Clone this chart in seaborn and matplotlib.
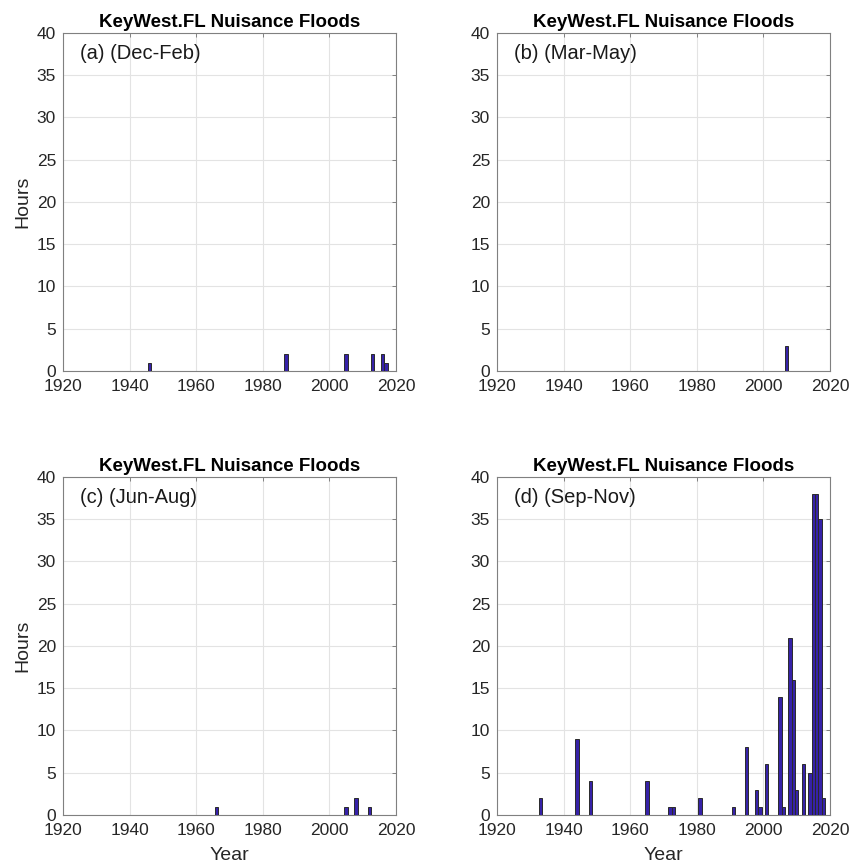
import numpy as np
import pandas as pd
import matplotlib
matplotlib.use('Agg')
import matplotlib.pyplot as plt
import seaborn as sns

# 数据: 每个季节出现滋扰性洪水的年份和小时数
station = 'KeyWest.FL Nuisance Floods'

djf_years = [1946, 1987, 2005, 2013, 2016, 2017]
djf_hours = [1, 2, 2, 2, 2, 1]

mam_years = [2007]
mam_hours = [3]

jja_years = [1966, 2005, 2008, 2012]
jja_hours = [1, 1, 2, 1]

son_years = [1933, 1944, 1948, 1965, 1972, 1973, 1981, 1991, 1995, 1998, 1999,
             2001, 2005, 2006, 2008, 2009, 2010, 2012, 2014, 2015, 2016, 2017, 2018]
son_hours = [2, 9, 4, 4, 1, 1, 2, 1, 8, 3, 1,
             6, 14, 1, 21, 16, 3, 6, 5, 38, 38, 35, 2]

panel_labels = ['(a) (Dec-Feb)', '(b) (Mar-May)', '(c) (Jun-Aug)', '(d) (Sep-Nov)']
x_ticks = [1920, 1940, 1960, 1980, 2000, 2020]
y_ticks = [0, 5, 10, 15, 20, 25, 30, 35, 40]

sns.set_style('white')
plt.rcParams['font.family'] = ['Liberation Sans', 'DejaVu Sans']

bar_color = '#3622a8'
panels = [(djf_years, djf_hours), (mam_years, mam_hours),
          (jja_years, jja_hours), (son_years, son_hours)]

fig = plt.figure(figsize=(8.61, 8.68), dpi=100)
lefts = [0.0732, 0.5772, 0.0732, 0.5772]
bottoms = [0.5726, 0.5726, 0.0611, 0.0611]

for i, (years, hours) in enumerate(panels):
    ax = fig.add_axes([lefts[i], bottoms[i], 0.3868, 0.3894])
    df = pd.DataFrame({'Year': years, 'Hours': hours})
    # native_scale 时宽度按最小年份间隔缩放, 这里换算成 1 年
    if len(years) > 1:
        step = np.min(np.diff(sorted(years)))
    else:
        step = 1
    sns.barplot(data=df, x='Year', y='Hours', native_scale=True, width=1.0 / step,
                color=bar_color, saturation=1, errorbar=None,
                edgecolor='#2a2a2a', linewidth=0.7, ax=ax, zorder=3)

    ax.set_xlim(1920, 2020)
    ax.set_ylim(0, 40)
    ax.set_xticks(x_ticks)
    ax.set_yticks(y_ticks)
    ax.grid(True, color='#e3e3e3', linewidth=0.8, zorder=0)
    ax.set_axisbelow(True)
    ax.tick_params(direction='in', length=3, width=0.7, colors='#808080',
                   labelcolor='#262626', labelsize=12.5, top=True, right=True)
    ax.tick_params(axis='x', pad=6)
    ax.tick_params(axis='y', pad=5)
    for s in ax.spines.values():
        s.set_color('#808080')
        s.set_linewidth(0.8)

    ax.set_title(station, fontsize=13.5, fontweight='bold', pad=4, color='black')
    ax.text(0.05, 0.94, panel_labels[i], transform=ax.transAxes,
            fontsize=14.5, va='center', ha='left', color='#1a1a1a')

    if i in (0, 2):
        ax.set_ylabel('Hours', fontsize=14, color='#262626', labelpad=4)
    else:
        ax.set_ylabel('')
    if i in (2, 3):
        ax.set_xlabel('Year', fontsize=14, color='#262626', labelpad=6)
    else:
        ax.set_xlabel('')

plt.savefig('out.png', dpi=100)
